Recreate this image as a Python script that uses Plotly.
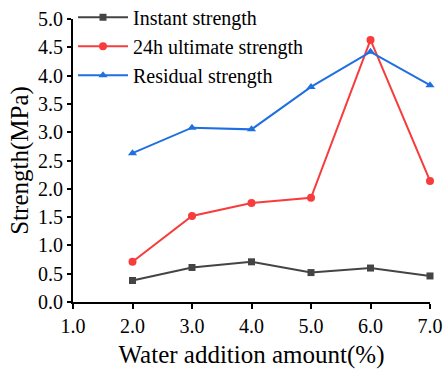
import plotly.graph_objects as go

water = [2.0, 3.0, 4.0, 5.0, 6.0, 7.0]
instant = [0.38, 0.61, 0.71, 0.52, 0.60, 0.46]
ultimate_24h = [0.71, 1.52, 1.75, 1.84, 4.63, 2.14]
residual = [2.63, 3.08, 3.05, 3.80, 4.42, 3.83]

x_ticks = [1.0, 2.0, 3.0, 4.0, 5.0, 6.0, 7.0]
y_ticks = [0.0, 0.5, 1.0, 1.5, 2.0, 2.5, 3.0, 3.5, 4.0, 4.5, 5.0]

FONT = "Liberation Serif"

fig = go.Figure()
fig.add_trace(go.Scatter(
    x=water, y=instant, name="Instant strength", mode="lines+markers",
    line=dict(color="#444444", width=2),
    marker=dict(symbol="square", size=7, color="#444444"), cliponaxis=False))
fig.add_trace(go.Scatter(
    x=water, y=ultimate_24h, name="24h ultimate strength", mode="lines+markers",
    line=dict(color="#f83c3c", width=2),
    marker=dict(symbol="circle", size=8, color="#f83c3c"), cliponaxis=False))
fig.add_trace(go.Scatter(
    x=water, y=residual, name="Residual strength", mode="lines+markers",
    line=dict(color="#1f6fe3", width=2),
    marker=dict(symbol="triangle-up", size=8, color="#1f6fe3"), cliponaxis=False))

fig.update_layout(
    width=446, height=369,
    margin=dict(l=73, r=16, t=19, b=67, autoexpand=False),
    paper_bgcolor="white", plot_bgcolor="white",
    font=dict(family=FONT, size=20, color="black"),
    showlegend=True,
    legend=dict(x=0.0, y=1.075, xanchor="left", yanchor="top",
                bgcolor="rgba(0,0,0,0)", font=dict(family=FONT, size=20),
                tracegroupgap=0, itemwidth=50),
    xaxis=dict(range=[1, 7], tickvals=x_ticks,
               ticktext=[f"{v:.1f}" for v in x_ticks],
               showgrid=False, zeroline=False, showline=True,
               linecolor="black", linewidth=2,
               ticks="outside", ticklen=5, tickwidth=2, tickcolor="black",
               title=dict(text="Water addition amount(%)",
                          font=dict(family=FONT, size=25), standoff=9)),
    yaxis=dict(range=[0, 5], tickvals=y_ticks,
               ticktext=[f"{v:.1f}" for v in y_ticks],
               showgrid=False, zeroline=False, showline=True,
               linecolor="black", linewidth=2,
               ticks="outside", ticklen=4, tickwidth=2, tickcolor="black",
               title=dict(text="Strength(MPa)",
                          font=dict(family=FONT, size=25), standoff=2)),
)

fig.write_html("out.html")
